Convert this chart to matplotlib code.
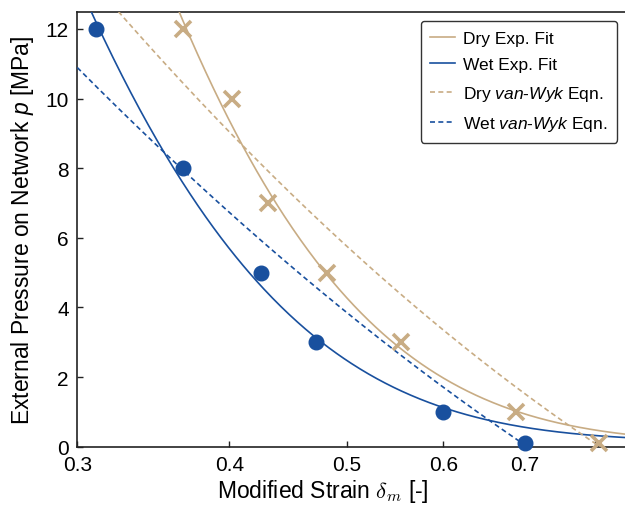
import numpy as np
import matplotlib
matplotlib.use("Agg")
import matplotlib.pyplot as plt
from matplotlib.ticker import FixedLocator, FixedFormatter, NullLocator

plt.rcParams['font.family'] = ['Liberation Sans', 'DejaVu Sans']
plt.rcParams['mathtext.fontset'] = 'custom'
plt.rcParams['mathtext.rm'] = 'Liberation Sans'
plt.rcParams['mathtext.it'] = 'Liberation Sans:italic'

# ---- data ----
wet_strain = [0.311, 0.3665, 0.425, 0.4715, 0.600, 0.700]
wet_pressure = [12, 8, 5, 3, 1, 0.1]
dry_strain = [0.3665, 0.402, 0.4305, 0.4815, 0.554, 0.688, 0.806]
dry_pressure = [12, 10, 7, 5, 3, 1, 0.1]

# exponential fits  p = A*exp(-b*delta) + c
wet_fit_params = [180.0, 8.7, 0.15]
dry_fit_params = [227.6, 8.0, 0.10]

# van-Wyk curves, quadratic in ln(delta/0.3), end strain where p = 0
wet_vw_coef = [10.89, -15.30, 2.963]
wet_vw_end = 0.704
dry_vw_coef = [13.866, -17.885, 3.918]
dry_vw_end = 0.807

x_ticks = [0.3, 0.4, 0.5, 0.6, 0.7, 0.8]
x_ticklabels = ['0.3', '0.4', '0.5', '0.6', '0.7', '']
y_ticks = [0, 2, 4, 6, 8, 10, 12]

blue = '#19509e'
tan = '#c8ac84'

fig = plt.figure(figsize=(6.25, 5.10), dpi=100)
W, H = 625, 510
x0, x1 = 77.3, 632
y0, y1 = 447.7, 12.5
ax = fig.add_axes([x0 / W, 1 - y0 / H, (x1 - x0) / W, (y0 - y1) / H])

ax.set_xscale('log')
xmax = 0.3 * np.exp((x1 - x0) / 528.0)
ax.set_xlim(0.3, xmax)
ax.set_ylim(0, 12.5)

xs = np.linspace(0.3, xmax, 400)
A, b, c = wet_fit_params
ax.plot(xs, A * np.exp(-b * xs) + c, color=blue, lw=1.2, label='Wet Exp. Fit', zorder=3)
A, b, c = dry_fit_params
ax.plot(xs, A * np.exp(-b * xs) + c, color=tan, lw=1.2, label='Dry Exp. Fit', zorder=3)

xw = np.linspace(0.3, wet_vw_end, 300)
uw = np.log(xw / 0.3)
ax.plot(xw, wet_vw_coef[0] + wet_vw_coef[1] * uw + wet_vw_coef[2] * uw ** 2,
        color=blue, lw=1.2, ls=(0, (3, 2)), label='Wet $\\it{van}$-$\\it{Wyk}$ Eqn.', zorder=3)
xd = np.linspace(0.3, dry_vw_end, 300)
ud = np.log(xd / 0.3)
ax.plot(xd, dry_vw_coef[0] + dry_vw_coef[1] * ud + dry_vw_coef[2] * ud ** 2,
        color=tan, lw=1.2, ls=(0, (3, 2)), label='Dry $\\it{van}$-$\\it{Wyk}$ Eqn.', zorder=3)

ax.plot(wet_strain, wet_pressure, 'o', color=blue, ms=10.5, zorder=5, clip_on=False)
ax.plot(dry_strain, dry_pressure, 'x', color=tan, ms=11.5, mew=2.6, zorder=5, clip_on=False)

ax.xaxis.set_major_locator(FixedLocator(x_ticks))
ax.xaxis.set_major_formatter(FixedFormatter(x_ticklabels))
ax.xaxis.set_minor_locator(NullLocator())
ax.set_yticks(y_ticks)

ax.tick_params(axis='both', direction='in', length=4, width=1.0, labelsize=15, colors='#222222')
ax.tick_params(axis='x', pad=6)
ax.tick_params(axis='y', pad=6)
for tl in ax.get_xticklabels() + ax.get_yticklabels():
    tl.set_color('black')

for s in ['left', 'bottom', 'top']:
    ax.spines[s].set_linewidth(1.2)
    ax.spines[s].set_color('#222222')
ax.spines['right'].set_visible(False)

ax.set_xlabel('Modified Strain $\\delta_m$ [-]', fontsize=16.5, math_fontfamily='cm')
ax.set_ylabel('External Pressure on Network $p$ [MPa]', fontsize=16.5, labelpad=7)
ax.xaxis.set_label_coords((323.3 - x0) / (x1 - x0), -(505 - y0) / (y0 - y1))
ax.xaxis.label.set_va('bottom')

handles, labels = ax.get_legend_handles_labels()
order = [labels.index('Dry Exp. Fit'), labels.index('Wet Exp. Fit'),
         labels.index('Dry $\\it{van}$-$\\it{Wyk}$ Eqn.'), labels.index('Wet $\\it{van}$-$\\it{Wyk}$ Eqn.')]
leg = ax.legend([handles[i] for i in order], [labels[i] for i in order],
                loc='upper right', bbox_to_anchor=(617 / W, 1 - 22 / H),
                bbox_transform=fig.transFigure, borderaxespad=0, fontsize=12.5,
                handlelength=1.45, labelspacing=0.66, fancybox=True, framealpha=1,
                edgecolor='#333333', borderpad=0.55, handletextpad=0.45)
leg.get_frame().set_linewidth(1.0)

fig.savefig('out.png', dpi=100)
